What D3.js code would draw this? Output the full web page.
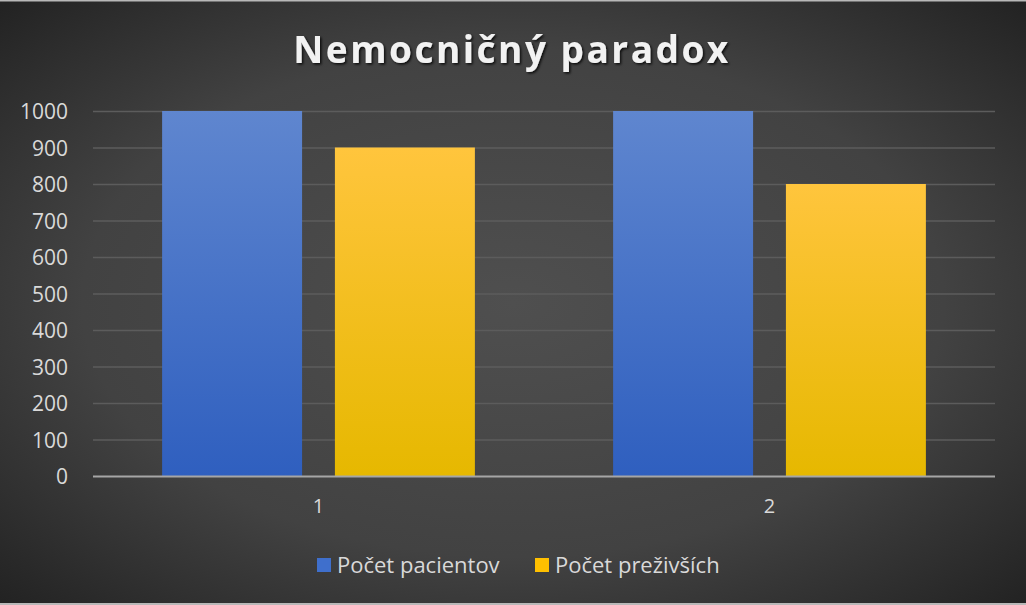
<!DOCTYPE html>
<html><head><meta charset="utf-8">
<script src="https://cdn.jsdelivr.net/npm/d3@7"></script>
<style>html,body{margin:0;padding:0;background:#333;}svg{display:block;}</style>
</head><body>
<svg id="c" width="1026" height="605"></svg>
<script>
const categories = ["1", "2"];
const seriesNames = ["Počet pacientov", "Počet preživších"];
const pacienti = [1000, 1000];
const prezivsi = [900, 800];
const yTicks = [0,100,200,300,400,500,600,700,800,900,1000];
const title = "Nemocničný paradox";

const W = 1026, H = 605;
const FONT = "'Open Sans', 'Noto Sans', sans-serif";
const svg = d3.select("#c");
const defs = svg.append("defs");
const bg = defs.append("radialGradient").attr("id","bg").attr("cx","50%").attr("cy","50%").attr("r","70%");
bg.append("stop").attr("offset","0%").attr("stop-color","#4f4f4f");
bg.append("stop").attr("offset","60%").attr("stop-color","#424242");
bg.append("stop").attr("offset","100%").attr("stop-color","#232323");
const gb = defs.append("linearGradient").attr("id","gBlue").attr("x1",0).attr("y1",0).attr("x2",0).attr("y2",1);
gb.append("stop").attr("offset","0%").attr("stop-color","#5f86cf");
gb.append("stop").attr("offset","100%").attr("stop-color","#2f5fbf");
const gy = defs.append("linearGradient").attr("id","gYellow").attr("x1",0).attr("y1",0).attr("x2",0).attr("y2",1);
gy.append("stop").attr("offset","0%").attr("stop-color","#ffc53d");
gy.append("stop").attr("offset","100%").attr("stop-color","#e6b800");
const sh = defs.append("filter").attr("id","sh").attr("x","-10%").attr("y","-30%").attr("width","120%").attr("height","160%");
sh.append("feDropShadow").attr("dx",1.5).attr("dy",1.5).attr("stdDeviation",1.2).attr("flood-color","#000").attr("flood-opacity",0.8);

svg.append("rect").attr("width",W).attr("height",H).attr("fill","url(#bg)");
svg.append("line").attr("x1",0).attr("x2",W).attr("y1",0.5).attr("y2",0.5).attr("stroke","#b8b8b8").attr("stroke-width",2);
svg.append("line").attr("x1",0).attr("x2",W).attr("y1",604).attr("y2",604).attr("stroke","#b8b8b8").attr("stroke-width",2);

const fills = ["url(#gBlue)", "url(#gYellow)"];
const legendColors = ["#3f6fcc", "#ffc000"];
const data = categories.map((c,i)=>({cat:c, vals:[pacienti[i], prezivsi[i]]}));

const x0 = d3.scaleBand().domain(categories).range([93, 995]).paddingInner(0).paddingOuter(0);
const x1 = d3.scaleBand().domain(seriesNames).range([0, x0.bandwidth()]).paddingInner(0.19).paddingOuter(0.4);
const y = d3.scaleLinear().domain([0, 1000]).range([476, 111]);

// gridlines
svg.append("g").selectAll("line").data(yTicks.filter(t=>t>0)).join("line")
  .attr("x1",93).attr("x2",995).attr("y1",d=>y(d)+0.5).attr("y2",d=>y(d)+0.5)
  .attr("stroke","#5c5c5c").attr("stroke-width",1.3);

// y axis labels
const yAxis = d3.axisLeft(y).tickValues(yTicks).tickSize(0).tickPadding(0).tickFormat(d3.format("d"));
const ya = svg.append("g").attr("transform","translate(68,0)").call(yAxis);
ya.select(".domain").remove();
ya.selectAll("text").attr("fill","#d9d9d9").attr("font-family",FONT).attr("font-size",21).attr("dy","0.36em");

// bars
const groups = svg.append("g").selectAll("g").data(data).join("g")
  .attr("transform",d=>`translate(${x0(d.cat)},0)`);
groups.selectAll("rect").data(d=>d.vals.map((v,j)=>({s:seriesNames[j], v, j}))).join("rect")
  .attr("x",d=>x1(d.s)).attr("width",x1.bandwidth())
  .attr("y",d=>y(d.v)).attr("height",d=>y(0)-y(d.v))
  .attr("fill",d=>fills[d.j]);

// x axis baseline
svg.append("line").attr("x1",93).attr("x2",995).attr("y1",y(0)+0.5).attr("y2",y(0)+0.5).attr("stroke","#a6a6a6").attr("stroke-width",1.8);

// x axis labels
const xAxis = d3.axisBottom(x0).tickSize(0).tickPadding(0);
const xa = svg.append("g").attr("transform","translate(0,499)").call(xAxis);
xa.select(".domain").remove();
xa.selectAll("text").attr("fill","#d9d9d9").attr("font-family",FONT).attr("font-size",20).attr("dy","0.71em");

// title
svg.append("text").attr("x",512).attr("y",63).attr("text-anchor","middle")
  .attr("fill","#f2f2f2").attr("font-family",FONT).attr("font-weight","bold")
  .attr("font-size",37).attr("letter-spacing","2.5px").attr("filter","url(#sh)").text(title);

// legend
const legendX = [317, 535];
const lg = svg.append("g").selectAll("g").data(seriesNames).join("g")
  .attr("transform",(d,i)=>`translate(${legendX[i]},558)`);
lg.append("rect").attr("width",14).attr("height",14).attr("fill",(d,i)=>legendColors[i]);
lg.append("text").attr("x",20).attr("y",7).attr("dy","0.35em").attr("fill","#d9d9d9")
  .attr("font-family",FONT).attr("font-size",22).text(d=>d);
</script>
</body></html>
